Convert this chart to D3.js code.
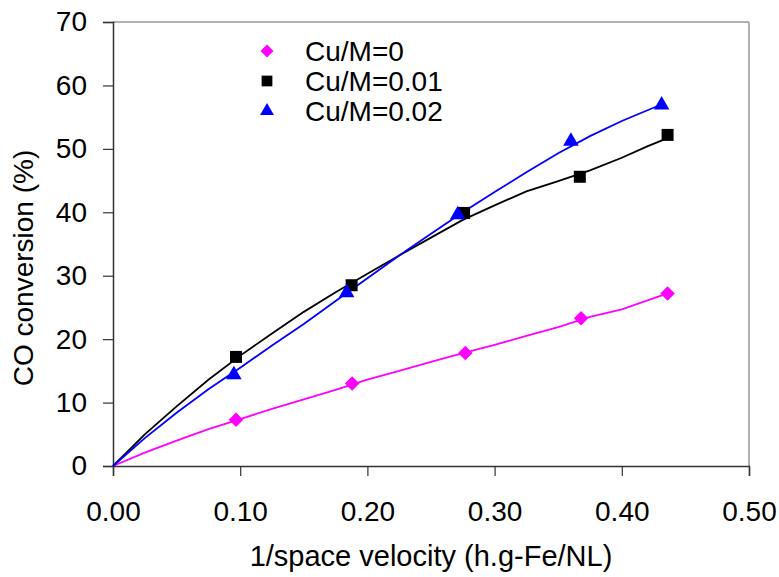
<!DOCTYPE html>
<html>
<head>
<meta charset="utf-8">
<script src="https://cdn.jsdelivr.net/npm/d3@7"></script>
<style>
  body { margin: 0; background: #fff; }
  text { font-family: "Liberation Sans", Arial, sans-serif; }
</style>
</head>
<body>
<svg id="chart" width="779" height="577"></svg>
<script>
// measured points
var seriesNames = ["Cu/M=0", "Cu/M=0.01", "Cu/M=0.02"];
var xM = [0.0967, 0.188, 0.277, 0.368, 0.436];
var yM = [7.3, 13.0, 17.8, 23.3, 27.2];
var xK = [0.0967, 0.1876, 0.276, 0.367, 0.436];
var yK = [17.2, 28.5, 39.9, 45.6, 52.2];
var xB = [0.095, 0.1837, 0.271, 0.360, 0.4313];
var yB = [14.4, 27.3, 39.6, 51.2, 56.9];

// fitted curves
var fitXM = [0, 0.025, 0.05, 0.075, 0.1, 0.125, 0.15, 0.175, 0.2, 0.225, 0.25, 0.275, 0.3, 0.325, 0.35, 0.375, 0.4, 0.436];
var fitYM = [0, 2.1, 4.0, 5.8, 7.4, 9.0, 10.5, 12.0, 13.6, 15.0, 16.4, 17.8, 19.1, 20.5, 21.9, 23.5, 24.7, 27.2];
var fitXK = [0, 0.025, 0.05, 0.075, 0.1, 0.125, 0.15, 0.175, 0.2, 0.225, 0.25, 0.275, 0.3, 0.325, 0.35, 0.375, 0.4, 0.42, 0.436];
var fitYK = [0, 5.0, 9.4, 13.6, 17.4, 20.9, 24.3, 27.4, 30.3, 33.2, 36.0, 38.8, 41.1, 43.3, 44.9, 46.6, 48.6, 50.4, 51.7];
var fitXB = [0, 0.025, 0.05, 0.075, 0.1, 0.125, 0.15, 0.175, 0.2, 0.225, 0.25, 0.275, 0.3, 0.325, 0.35, 0.375, 0.4, 0.431];
var fitYB = [0, 4.4, 8.4, 12.1, 15.5, 19.0, 22.4, 26.0, 29.6, 33.2, 36.6, 40.0, 43.2, 46.3, 49.3, 52.0, 54.4, 57.0];

var xTicks = [0, 0.1, 0.2, 0.3, 0.4, 0.5];
var yTicks = [0, 10, 20, 30, 40, 50, 60, 70];

var svg = d3.select("#chart");
var pLeft = 113, pRight = 749, pTop = 22, pBottom = 466;

var x = d3.scaleLinear().domain([0, 0.5]).range([pLeft, pRight]);
var y = d3.scaleLinear().domain([0, 70]).range([pBottom, pTop]);

// frame top / right
svg.append("line").attr("x1", pLeft).attr("x2", pRight).attr("y1", pTop).attr("y2", pTop)
  .attr("stroke", "#999").attr("stroke-width", 1.5);
svg.append("line").attr("x1", pRight).attr("x2", pRight).attr("y1", pTop).attr("y2", pBottom)
  .attr("stroke", "#999").attr("stroke-width", 1.5);

var xAxis = svg.append("g").attr("transform", "translate(0," + pBottom + ")")
  .call(d3.axisBottom(x).tickValues(xTicks).tickFormat(d3.format(".2f")).tickSize(10).tickPadding(25));
var yAxis = svg.append("g").attr("transform", "translate(" + pLeft + ",0)")
  .call(d3.axisLeft(y).tickValues(yTicks).tickSize(10).tickPadding(16));

[xAxis, yAxis].forEach(function (g) {
  g.select(".domain").attr("stroke", "#333").attr("stroke-width", 1.5);
  g.selectAll(".tick line").attr("stroke", "#333").attr("stroke-width", 1.2);
  g.selectAll(".tick text").attr("fill", "#000").style("font-size", "28px")
    .style("font-family", "'Liberation Sans', Arial, sans-serif");
});

var line = d3.line().x(function (d) { return x(d[0]); }).y(function (d) { return y(d[1]); });

var diamond = { draw: function (ctx, size) {
  var r = Math.sqrt(size / 2);
  ctx.moveTo(0, -r); ctx.lineTo(r, 0); ctx.lineTo(0, r); ctx.lineTo(-r, 0); ctx.closePath();
} };

var series = [
  { fx: fitXM, fy: fitYM, px: xM, py: yM, color: "#ff00ff", sym: diamond, size: 105 },
  { fx: fitXK, fy: fitYK, px: xK, py: yK, color: "#000000", sym: d3.symbolSquare, size: 144 },
  { fx: fitXB, fy: fitYB, px: xB, py: yB, color: "#0000ff", sym: d3.symbolTriangle, size: 105 }
];

series.forEach(function (s) {
  svg.append("path")
    .datum(d3.zip(s.fx, s.fy))
    .attr("d", line)
    .attr("fill", "none")
    .attr("stroke", s.color)
    .attr("stroke-width", 1.8);
});

series.forEach(function (s) {
  svg.selectAll(null)
    .data(d3.zip(s.px, s.py))
    .enter().append("path")
    .attr("d", d3.symbol().type(s.sym).size(s.size))
    .attr("transform", function (d) { return "translate(" + x(d[0]) + "," + y(d[1]) + ")"; })
    .attr("fill", s.color);
});

// legend
var leg = svg.append("g");
series.forEach(function (s, i) {
  var ly = 51 + i * 30;
  leg.append("path")
    .attr("d", d3.symbol().type(s.sym).size(s.size * 0.8))
    .attr("transform", "translate(267," + ly + ")")
    .attr("fill", s.color);
  leg.append("text")
    .attr("x", 305).attr("y", ly + 10)
    .style("font-size", "28px")
    .text(seriesNames[i]);
});

svg.append("text")
  .attr("x", 431).attr("y", 566)
  .attr("text-anchor", "middle")
  .style("font-size", "29px")
  .text("1/space velocity (h.g-Fe/NL)");

svg.append("text")
  .attr("transform", "translate(33,268) rotate(-90)")
  .attr("text-anchor", "middle")
  .style("font-size", "28px")
  .text("CO conversion (%)");
</script>
</body>
</html>
